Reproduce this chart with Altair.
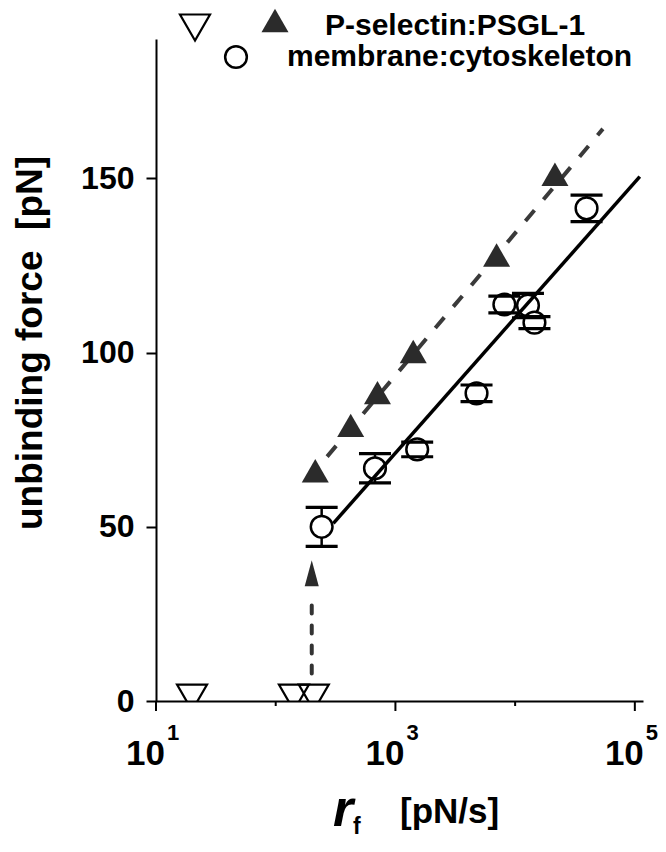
import altair as alt
import pandas as pd

# ---------------- data ----------------
tri_rate = [214, 423, 708, 1409, 7000, 21500]
tri_force = [66.1, 79.1, 88.5, 100.3, 128.0, 151.2]

circ_rate = [242, 675, 1520, 4760, 8130, 12800, 14500, 39500]
circ_force = [50.0, 66.8, 72.2, 88.3, 113.8, 113.5, 108.6, 141.4]
circ_err = [5.6, 4.2, 2.1, 2.4, 2.4, 3.5, 1.7, 3.8]

noadh_rate = [20, 142, 208]
noadh_force = [1, 1, 1]

fit_dash_rate = [190, 54100]
fit_dash_force = [64.0, 164.2]
fit_solid_rate = [303, 110000]
fit_solid_force = [51.0, 150.5]

arrow_rate = [200]
arrow_from = [7.9]
arrow_to = [29.9]
arrow_head = [36.7]

x_major = [10, 1000, 100000]
x_major_base = ["10", "10", "10"]
x_major_exp = ["1", "3", "5"]
x_minor = [100, 10000]
y_ticks = [0, 50, 100, 150]

legend_labels = ["P-selectin:PSGL-1", "membrane:cytoskeleton"]
y_title = "unbinding force\u00a0\u00a0[pN]"
x_title_main = "r"
x_title_sub = "f"
x_title_unit = "[pN/s]"

# ---------------- chart ----------------
W, H = 487, 662
FONT = "Liberation Sans"

xscale = alt.Scale(type="log", domain=[10, 117000], nice=False)
yscale = alt.Scale(domain=[0, 190], nice=False, zero=False)
xaxis = alt.Axis(labels=False, ticks=False, grid=False, title=None,
                 domainColor="black", domainWidth=2)
yaxis = alt.Axis(values=y_ticks, grid=False, title=None, tickSize=10, tickWidth=2,
                 tickColor="black", domainColor="black", domainWidth=2,
                 labelFont=FONT, labelFontWeight="bold", labelFontSize=32,
                 labelColor="black", labelPadding=12)


def X(field):
    return alt.X(field, type="quantitative", scale=xscale, axis=xaxis)


def Y(field):
    return alt.Y(field, type="quantitative", scale=yscale, axis=yaxis)


tri_df = pd.DataFrame({"rate": tri_rate, "force": tri_force})
circ_df = pd.DataFrame({"rate": circ_rate, "force": circ_force, "err": circ_err})
circ_df["lo"] = circ_df["force"] - circ_df["err"]
circ_df["hi"] = circ_df["force"] + circ_df["err"]
noadh_df = pd.DataFrame({"rate": noadh_rate, "force": noadh_force})
dash_df = pd.DataFrame({"rate": fit_dash_rate, "force": fit_dash_force})
solid_df = pd.DataFrame({"rate": fit_solid_rate, "force": fit_solid_force})
arrow_df = pd.DataFrame({"rate": arrow_rate, "y0": arrow_from, "y1": arrow_to, "head": arrow_head})
major_df = pd.DataFrame({"rate": x_major, "base": x_major_base, "exp": x_major_exp})
minor_df = pd.DataFrame({"rate": x_minor})
one = pd.DataFrame({"a": [0]})

dash_line = alt.Chart(dash_df).mark_line(color="#3a3a3a", strokeWidth=4, strokeDash=[14, 14]).encode(
    x=X("rate"), y=Y("force"))
triangles = alt.Chart(tri_df).mark_point(shape="triangle-up", filled=True, color="#2b2b2b",
                                         size=729, opacity=1).encode(x=X("rate"), y=Y("force"))
stems = alt.Chart(circ_df).mark_rule(color="black", strokeWidth=2.5).encode(
    x=X("rate"), y=Y("lo"), y2="hi")
circles = alt.Chart(circ_df).mark_point(shape="circle", filled=True, fill="white", stroke="black",
                                        strokeWidth=2.5, size=470, opacity=1).encode(
    x=X("rate"), y=Y("force"))
cap_lo = alt.Chart(circ_df).mark_tick(orient="horizontal", color="black", size=32, thickness=3.2,
                                      opacity=1).encode(x=X("rate"), y=Y("lo"))
cap_hi = alt.Chart(circ_df).mark_tick(orient="horizontal", color="black", size=32, thickness=3.2,
                                      opacity=1).encode(x=X("rate"), y=Y("hi"))
solid_line = alt.Chart(solid_df).mark_line(color="black", strokeWidth=3.5).encode(
    x=X("rate"), y=Y("force"))
open_tri = alt.Chart(noadh_df).mark_point(shape="triangle-down", filled=False, color="black",
                                          strokeWidth=2.2, size=900, opacity=1, clip=True).encode(
    x=X("rate"), y=Y("force"))
arrow_shaft = alt.Chart(arrow_df).mark_rule(color="#333333", strokeWidth=4, strokeDash=[8, 12],
                                            strokeCap="round").encode(x=X("rate"), y=Y("y0"), y2="y1")
arrow_tip = alt.Chart(arrow_df).mark_point(shape="M0,-1L0.54,1L-0.54,1Z", filled=True,
                                           color="#2b2b2b", size=676, opacity=1).encode(
    x=X("rate"), y=Y("head"))

# x ticks (drawn from tick arrays)
major_ticks = alt.Chart(major_df).mark_rule(color="black", strokeWidth=2).encode(
    x=X("rate"), y=alt.value(H), y2=alt.value(H + 10))
minor_ticks = alt.Chart(minor_df).mark_rule(color="black", strokeWidth=2).encode(
    x=X("rate"), y=alt.value(H), y2=alt.value(H + 5))
lab_base = alt.Chart(major_df).mark_text(align="right", baseline="alphabetic", dx=9, font=FONT,
                                         fontWeight="bold", fontSize=35, color="black").encode(
    x=X("rate"), y=alt.value(H + 64), text="base")
lab_exp = alt.Chart(major_df).mark_text(align="left", baseline="alphabetic", dx=11, font=FONT,
                                        fontWeight="bold", fontSize=22, color="black").encode(
    x=X("rate"), y=alt.value(H + 39), text="exp")

# axis titles
ytitle = alt.Chart(one).mark_text(angle=270, align="center", baseline="alphabetic", font=FONT,
                                  fontWeight="bold", fontSize=37, color="black").encode(
    x=alt.value(-114), y=alt.value(304), text=alt.value(y_title))
xt_r = alt.Chart(one).mark_text(align="left", baseline="alphabetic", font=FONT, fontWeight="bold",
                                fontStyle="italic", fontSize=52, color="black").encode(
    x=alt.value(177), y=alt.value(787), text=alt.value(x_title_main))
xt_f = alt.Chart(one).mark_text(align="left", baseline="alphabetic", font=FONT, fontWeight="bold",
                                fontSize=23, color="black").encode(
    x=alt.value(197), y=alt.value(795), text=alt.value(x_title_sub))
xt_unit = alt.Chart(one).mark_text(align="left", baseline="alphabetic", font=FONT, fontWeight="bold",
                                   fontSize=35, color="black").encode(
    x=alt.value(244), y=alt.value(784), text=alt.value(x_title_unit))

# legend
leg_open = alt.Chart(one).mark_point(shape="triangle-down", filled=False, color="black",
                                     strokeWidth=2.2, size=900, opacity=1).encode(
    x=alt.value(39), y=alt.value(-11.5))
leg_tri = alt.Chart(one).mark_point(shape="triangle-up", filled=True, color="#2b2b2b",
                                    size=729, opacity=1).encode(x=alt.value(119), y=alt.value(-18.5))
leg_circ = alt.Chart(one).mark_point(shape="circle", filled=True, fill="white", stroke="black",
                                     strokeWidth=2.5, size=470, opacity=1).encode(
    x=alt.value(80), y=alt.value(18))
leg_t1 = alt.Chart(one).mark_text(align="left", baseline="alphabetic", font=FONT, fontWeight="bold",
                                  fontSize=30, color="black").encode(
    x=alt.value(169), y=alt.value(-4), text=alt.value(legend_labels[0]))
leg_t2 = alt.Chart(one).mark_text(align="left", baseline="alphabetic", font=FONT, fontWeight="bold",
                                  fontSize=30, color="black").encode(
    x=alt.value(131), y=alt.value(27), text=alt.value(legend_labels[1]))

chart = alt.layer(
    dash_line, triangles, stems, circles, cap_lo, cap_hi, solid_line, open_tri,
    arrow_shaft, arrow_tip, major_ticks, minor_ticks, lab_base, lab_exp,
    ytitle, xt_r, xt_f, xt_unit, leg_open, leg_tri, leg_circ, leg_t1, leg_t2,
).properties(
    width=W, height=H,
    padding={"left": 148, "top": 31, "right": 15, "bottom": 137},
    autosize=alt.AutoSizeParams(type="none"),
    background="white",
).configure_view(stroke=None)

chart.save("out.html", embed_options={"renderer": "svg", "actions": False})
